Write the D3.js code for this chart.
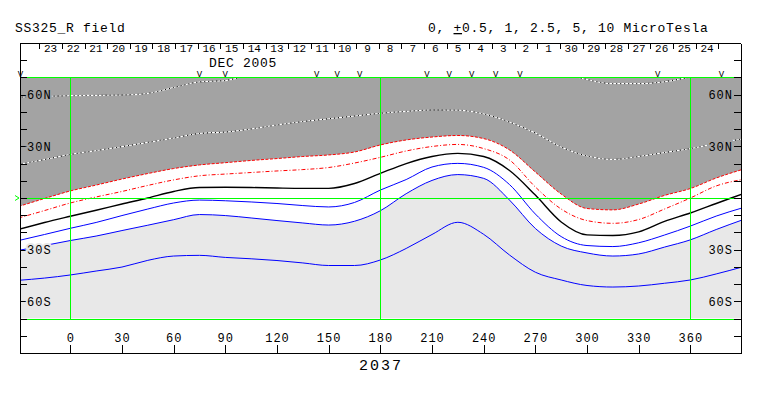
<!DOCTYPE html>
<html>
<head>
<meta charset="utf-8">
<script src="https://cdn.jsdelivr.net/npm/d3@7"></script>
<style>
body { margin: 0; background: #fff; }
text { font-family: "Liberation Mono", "DejaVu Sans Mono", monospace; fill: #000; }
</style>
</head>
<body>
<svg id="s1"></svg>
<script>
var lons = [-30, -15, 0, 15, 30, 45, 60, 75, 90, 105, 120, 135, 150, 165, 180, 195, 210, 225, 240, 255, 270, 285, 300, 315, 330, 345, 360, 375, 390];

// contour latitudes (deg) per level, one value per lon above
var neg5 = [58.5, 59.0, 59.4, 59.6, 59.8, 60.7, 64.2, 67.4, 68.2, 72, 75, 77, 78, 79, 80, 80, 80, 80, 79, 78, 76, 73, 68.8, 66.4, 66.4, 67.5, 70.2, 72, 73];
var neg25 = [19.5, 22.3, 25.3, 27.5, 29.8, 32.3, 34.8, 37.5, 38.3, 40.1, 42.4, 44.4, 46.0, 47.6, 49.2, 50.3, 51.1, 51.0, 48.8, 44.1, 37.7, 29.6, 24.4, 22.4, 24.1, 26.4, 28.7, 31.6, 34.3];
var neg1 = [-4.9, -0.3, 4.1, 7.5, 11.0, 14.2, 17.1, 19.2, 20.5, 21.8, 22.9, 24.1, 25.0, 26.7, 30.8, 33.7, 35.4, 36.3, 34.5, 27.9, 15.1, 2.3, -6.1, -6.9, -3.5, 1.5, 5.5, 11.6, 16.5];
var neg05 = [-11.6, -7.3, -2.9, 0.6, 3.8, 7.3, 10.5, 12.9, 13.9, 14.8, 15.7, 16.5, 17.7, 20.3, 23.6, 27.3, 29.9, 31.1, 28.7, 22.1, 6.4, -6.4, -13.1, -14.7, -12.5, -6.4, 0, 7.0, 10.7];
var zero = [-18.2, -14.2, -10.6, -7.1, -3.5, 0, 3.8, 6.1, 6.2, 6.1, 5.8, 5.6, 5.6, 8.4, 14.3, 20.0, 24.1, 25.9, 24.1, 16.0, 1.7, -13.9, -21.4, -21.8, -19.7, -13.6, -8.7, -3.2, 2.3];
var pos05 = [-24.7, -21.2, -17.6, -14.2, -10.2, -6.4, -2.9, -1.2, -1.6, -2.3, -3.2, -4.4, -5.2, -2.6, 4.6, 10.7, 18.0, 20.1, 17.8, 7.8, -9.3, -22.4, -27.6, -28.2, -26.0, -21.5, -16.3, -10.5, -5.8];
var pos1 = [-30.4, -27.6, -24.7, -22.1, -18.9, -15.8, -12.6, -9.6, -10.2, -11.6, -13.1, -14.5, -15.7, -13.5, -7.4, 2.5, 10.2, 13.6, 11.4, -1.2, -17.7, -27.9, -31.9, -33.7, -32.5, -28.5, -24.3, -18.3, -12.8];
var pos25 = [-47.8, -46.5, -44.7, -42.4, -40.1, -36.2, -33.7, -33.3, -34.5, -35.3, -36.3, -37.7, -39.2, -39.2, -36.0, -29.3, -21.2, -14.1, -21.1, -33.1, -43.1, -47.6, -50.8, -51.7, -51.1, -49.5, -47.6, -44.1, -40.1];

// tick labels
var lonTicks = [0, 30, 60, 90, 120, 150, 180, 210, 240, 270, 300, 330, 360];
var latTicks = [-90, -80, -70, -60, -50, -40, -30, -20, -10, 0, 10, 20, 30, 40, 50, 60, 70, 80, 90];
var latLabelVals = [60, 30, -30, -60];
var latLabels = ["60N", "30N", "30S", "60S"];
var days = ["23", "22", "21", "20", "19", "18", "17", "16", "15", "14", "13", "12", "11", "10", "9", "8", "7", "6", "5", "4", "3", "2", "1", "30", "29", "28", "27", "26", "25", "24"];
// longitudes of the little V markers on top of the map
var markLons = [-29, 75, 90, 143, 155, 168, 207, 220, 233, 247, 261, 341, 378];

var width = 763;
var height = 396;
var darkGray = "#a3a3a3";
var lightGray = "#e8e8e8";
var green = "#00ff00";

var svg = d3.select("#s1").attr("width", width).attr("height", height);

var x = d3.scaleLinear().domain([-29.2, 389.4]).range([20, 741]);
var y = d3.scaleLinear().domain([-90, 90]).range([353, 43]);
var mapTop = y(70), mapBottom = y(-70);

svg.append("clipPath").attr("id", "mapclip")
    .append("rect")
    .attr("x", x.range()[0]).attr("y", mapTop)
    .attr("width", x.range()[1] - x.range()[0])
    .attr("height", mapBottom - mapTop);

var map = svg.append("g").attr("clip-path", "url(#mapclip)");

// background (above +1 microtesla)
map.append("rect")
    .attr("x", x.range()[0]).attr("y", mapTop)
    .attr("width", x.range()[1] - x.range()[0])
    .attr("height", mapBottom - mapTop)
    .attr("fill", lightGray);

var curve = d3.curveMonotoneX;

// white band between -1 and +1
map.append("path")
    .datum(lons)
    .attr("fill", "#fff")
    .attr("d", d3.area()
        .x(function (d) { return x(d); })
        .y0(function (d, i) { return y(neg1[i]); })
        .y1(function (d, i) { return y(pos1[i]); })
        .curve(curve));

// dark band north of -1
map.append("path")
    .datum(lons)
    .attr("fill", darkGray)
    .attr("d", d3.area()
        .x(function (d) { return x(d); })
        .y0(y(90))
        .y1(function (d, i) { return y(neg1[i]); })
        .curve(curve));

// green reference lines
var gridG = svg.append("g").attr("stroke", green).attr("stroke-width", 1).attr("shape-rendering", "crispEdges");
[70, 0, -70].forEach(function (lat) {
    gridG.append("line")
        .attr("x1", x.range()[0]).attr("x2", x.range()[1])
        .attr("y1", Math.round(y(lat)) + 0.5).attr("y2", Math.round(y(lat)) + 0.5);
});
[0, 180, 360].forEach(function (lon) {
    gridG.append("line")
        .attr("x1", Math.round(x(lon)) + 0.5).attr("x2", Math.round(x(lon)) + 0.5)
        .attr("y1", mapTop).attr("y2", mapBottom);
});
// little green marker at the equator, left side
svg.append("path")
    .attr("d", "M15," + (y(0) - 2.5) + "L19," + y(0) + "L15," + (y(0) + 2.5))
    .attr("fill", "none").attr("stroke", green);

// contour lines
var line = d3.line()
    .x(function (d) { return x(d[0]); })
    .y(function (d) { return y(d[1]); })
    .curve(curve);

function pts(vals) {
    return lons.map(function (lon, i) { return [lon, vals[i]]; });
}

var contours = [
    { vals: neg5, stroke: "#000", width: 1, dash: null },
    { vals: neg5, stroke: "#fff", width: 1.2, dash: "3,1" },
    { vals: neg25, stroke: "#000", width: 1, dash: null },
    { vals: neg25, stroke: "#fff", width: 1.2, dash: "3,1" },
    { vals: neg1, stroke: "#ff0000", width: 1, dash: "3,1.5" },
    { vals: neg05, stroke: "#ff0000", width: 1, dash: "4,2,1,2" },
    { vals: zero, stroke: "#000", width: 1.4, dash: null },
    { vals: pos05, stroke: "#0000ff", width: 1, dash: null },
    { vals: pos1, stroke: "#0000ff", width: 1, dash: null },
    { vals: pos25, stroke: "#0000ff", width: 1, dash: null }
];

map.selectAll("path.contour")
    .data(contours)
    .enter()
    .append("path")
    .attr("class", "contour")
    .attr("fill", "none")
    .attr("stroke", function (d) { return d.stroke; })
    .attr("stroke-width", function (d) { return d.width; })
    .attr("stroke-dasharray", function (d) { return d.dash; })
    .attr("d", function (d) { return line(pts(d.vals)); });

// frame
svg.append("line")
    .attr("x1", x.range()[0]).attr("x2", x.range()[1])
    .attr("y1", y(90)).attr("y2", y(90))
    .attr("stroke", "#000").attr("shape-rendering", "crispEdges");

function latLabel(d) {
    var k = latLabelVals.indexOf(d);
    return k < 0 ? "" : latLabels[k];
}

var leftAxis = svg.append("g")
    .attr("transform", "translate(" + x.range()[0] + ",0)")
    .call(d3.axisRight(y).tickValues(latTicks).tickSize(7).tickSizeOuter(0).tickPadding(0).tickFormat(latLabel));

var rightAxis = svg.append("g")
    .attr("transform", "translate(" + x.range()[1] + ",0)")
    .call(d3.axisLeft(y).tickValues(latTicks).tickSize(7).tickSizeOuter(0).tickPadding(1).tickFormat(latLabel));

var bottomAxis = svg.append("g")
    .attr("transform", "translate(0," + y(-90) + ")")
    .call(d3.axisTop(x).tickValues(lonTicks).tickSize(8).tickSizeOuter(0).tickPadding(3));

[leftAxis, rightAxis, bottomAxis].forEach(function (g) {
    g.attr("font-family", null).attr("font-size", null);
    g.selectAll("path, line").attr("stroke", "#000").attr("shape-rendering", "crispEdges");
    g.selectAll("text")
        .attr("fill", "#000")
        .style("font-size", "12px")
        .style("letter-spacing", "1px");
});

// lat labels sit on the map fill, mask the contours behind them
[leftAxis, rightAxis].forEach(function (g) {
    g.selectAll("text")
        .style("paint-order", "stroke")
        .attr("stroke", function (d) { return d > 0 ? darkGray : lightGray; })
        .attr("stroke-width", 4);
});

// day strip above the map
var dayScale = d3.scaleLinear().domain([0, days.length]).range([39.3, 718.3]);

svg.selectAll("line.daysep")
    .data(d3.range(days.length + 1))
    .enter()
    .append("line")
    .attr("class", "daysep")
    .attr("x1", function (d) { return Math.round(dayScale(d)) + 0.5; })
    .attr("x2", function (d) { return Math.round(dayScale(d)) + 0.5; })
    .attr("y1", y(90)).attr("y2", y(90) + 6)
    .attr("stroke", "#000");

svg.selectAll("text.day")
    .data(days)
    .enter()
    .append("text")
    .attr("class", "day")
    .attr("x", function (d, i) { return dayScale(i + 0.5); })
    .attr("y", 52)
    .attr("text-anchor", "middle")
    .style("font-size", "11px")
    .text(function (d) { return d; });

svg.append("text")
    .attr("x", 243).attr("y", 67)
    .attr("text-anchor", "middle")
    .style("font-size", "13px")
    .style("letter-spacing", "0.7px")
    .text("DEC 2005");

svg.selectAll("text.mark")
    .data(markLons)
    .enter()
    .append("text")
    .attr("class", "mark")
    .attr("x", function (d) { return x(d); })
    .attr("y", mapTop - 0.5)
    .attr("text-anchor", "middle")
    .style("font-size", "9px")
    .text("V");

// titles
svg.append("text")
    .attr("x", 15).attr("y", 32)
    .style("font-size", "13px")
    .style("letter-spacing", "0.7px")
    .text("SS325_R field");

var legend = svg.append("text")
    .attr("x", 428).attr("y", 32)
    .style("font-size", "13px")
    .style("letter-spacing", "0.7px");
legend.append("tspan").text("0, ");
legend.append("tspan").style("text-decoration", "underline").text("+");
legend.append("tspan").text("0.5, 1, 2.5, 5, 10 MicroTesla");

svg.append("text")
    .attr("x", 381).attr("y", 370)
    .attr("text-anchor", "middle")
    .style("font-size", "15px")
    .style("letter-spacing", "2px")
    .text("2037");
</script>
</body>
</html>
